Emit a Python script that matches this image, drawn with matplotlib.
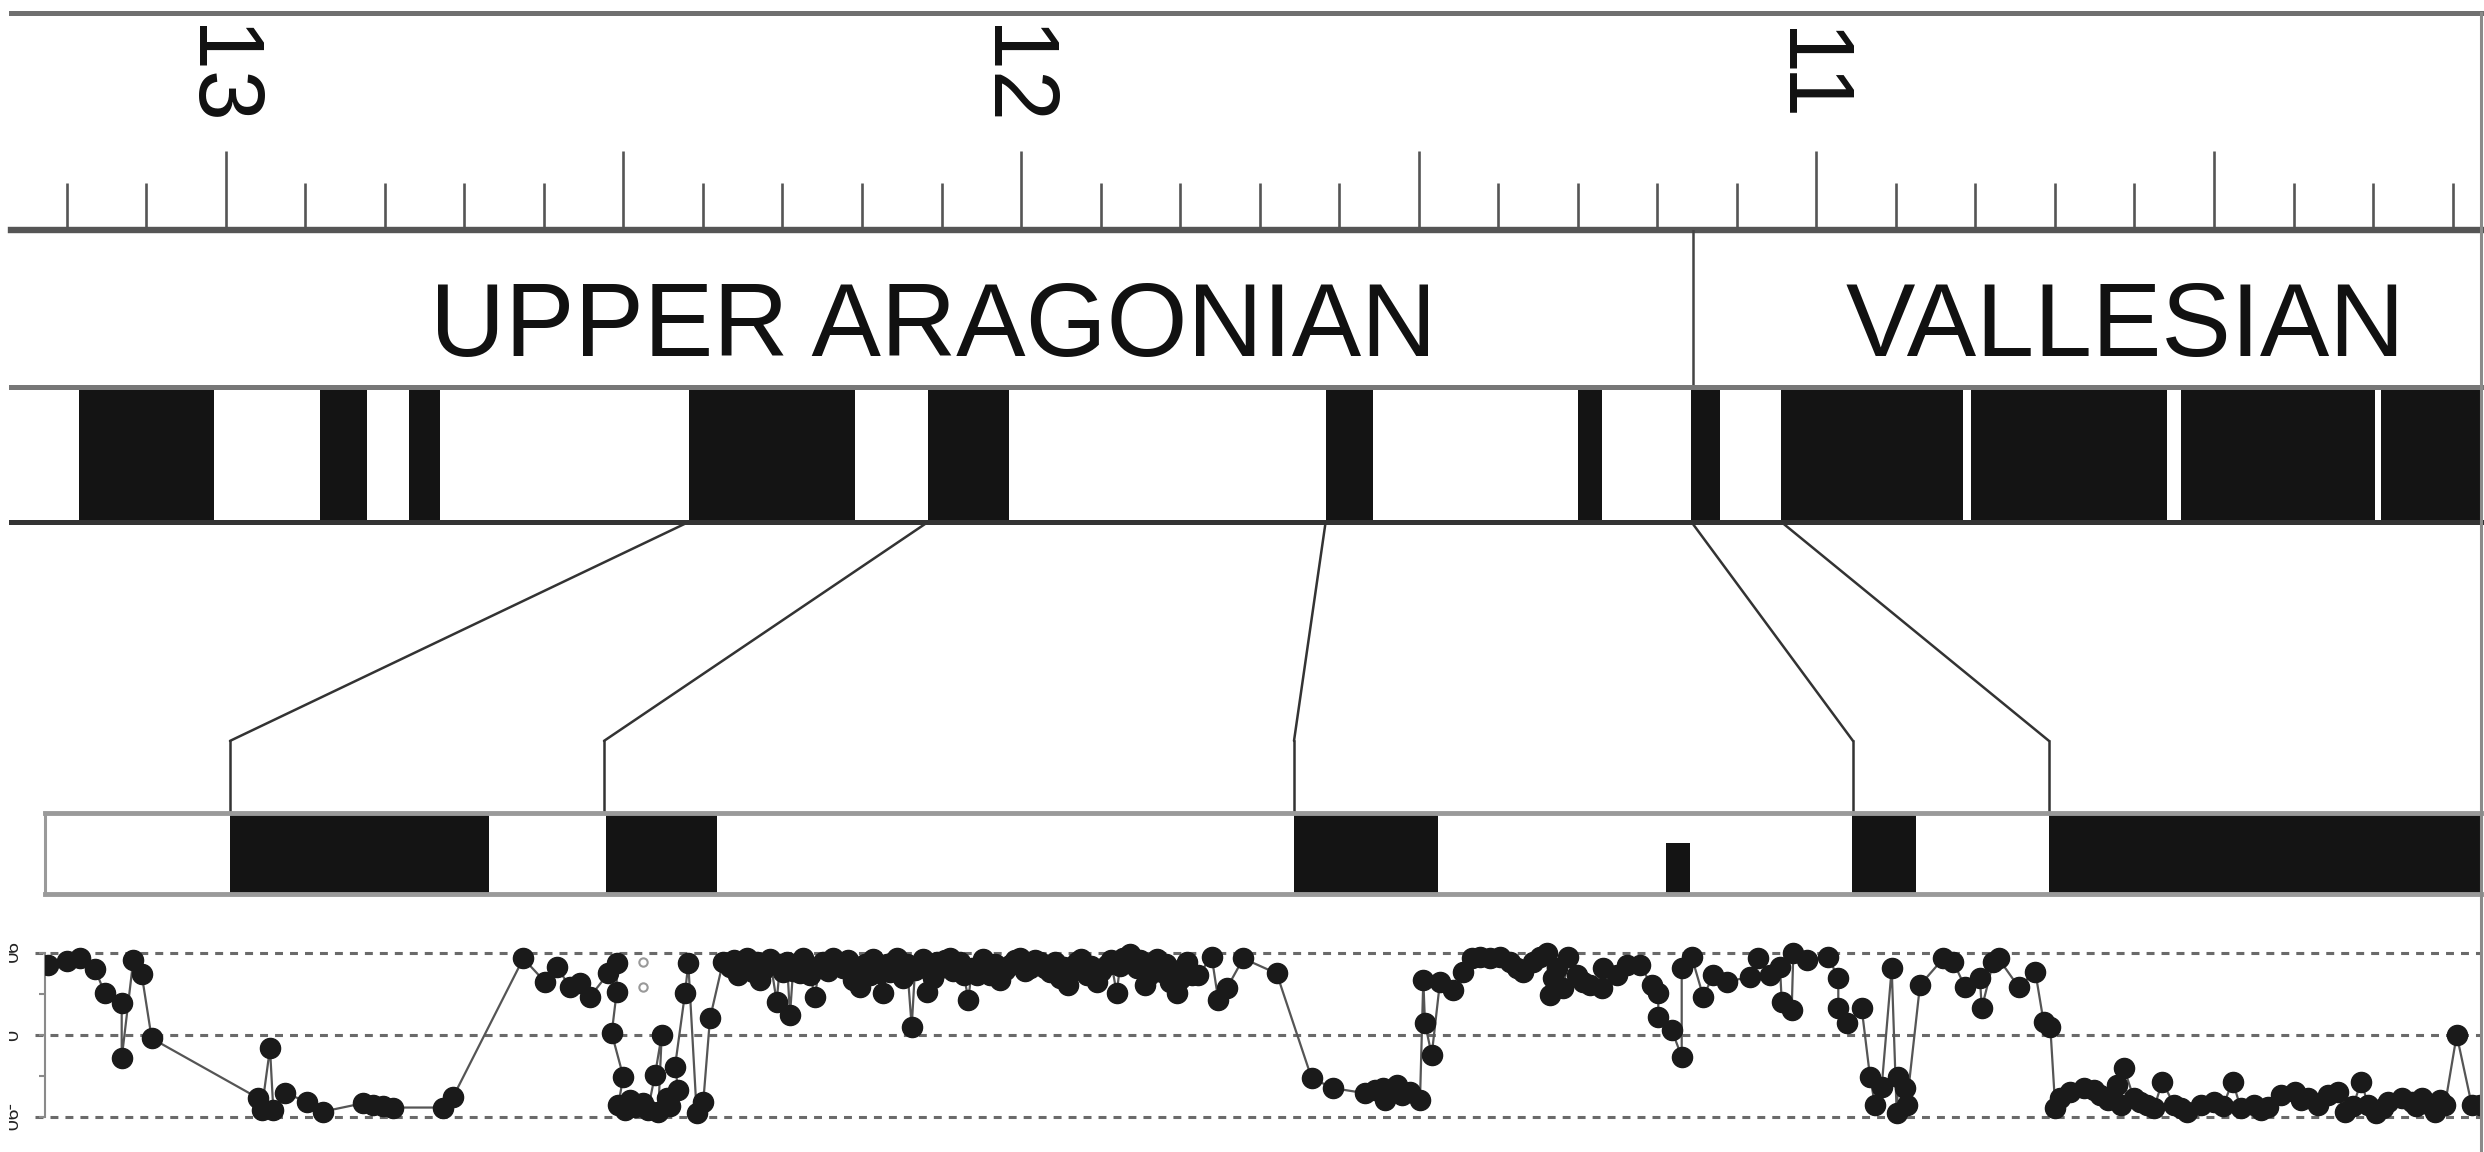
import matplotlib
matplotlib.use('Agg')
import matplotlib.pyplot as plt
from matplotlib.ticker import MultipleLocator
from matplotlib.patches import ConnectionPatch
from matplotlib.lines import Line2D
from matplotlib.transforms import Bbox, TransformedBbox, ScaledTranslation

plt.rcParams['font.family'] = ['Liberation Sans', 'DejaVu Sans']

# --- time scale (Ma) ---
age_range = (13.270, 10.163)
label_ages = [13, 12, 11]
stage_names = ['UPPER ARAGONIAN', 'VALLESIAN']
stage_label_ages = [12.11, 10.612]
stage_boundary = 11.155
# black (normal) chrons of the reference scale, (older, younger)
gpts_normal = [(13.185, 13.015), (12.881, 12.822), (12.769, 12.730),
               (12.418, 12.209), (12.117, 12.015), (11.617, 11.558),
               (11.300, 11.269), (11.157, 11.121), (11.044, 10.815),
               (10.805, 10.559), (10.541, 10.298), (10.290, 10.10)]

# --- local section (stratigraphic level, m) ---
section_range = (0, 243.7)
section_normal = [(18.5, 44.4), (56.1, 67.2), (124.9, 139.3),
                  (180.7, 187.1), (200.4, 250.0)]
section_half = [(162.1, 164.5)]
# correlation ties: (age Ma, level m)
tie_ages = [12.418, 12.117, 11.617, 11.157, 11.044]
tie_levels = [18.5, 55.9, 124.9, 180.8, 200.4]

# VGP latitude along the section
level = [0.33, 2.17, 3.5, 5.0, 6.0, 7.67, 7.67, 8.83, 9.67, 10.67,
         21.33, 21.67, 22.5, 22.83, 24.0, 26.17, 27.83, 31.83, 32.83, 33.83,
         34.83, 39.83, 40.83,
         47.83, 50.0, 51.17, 52.5, 53.5, 54.5, 56.33, 57.17, 57.17, 56.67,
         57.83, 57.33, 58.0, 58.5, 59.0, 59.83, 60.3, 61.0, 61.67, 61.33,
         62.17, 62.5, 63.33, 63.0, 64.0, 64.33, 65.17, 65.83, 66.5,
         67.8, 68.5, 68.9, 69.33, 69.7, 70.17, 70.5, 70.83, 71.2, 71.5,
         71.8, 72.17, 72.5, 73.17, 73.5, 73.83, 74.2, 74.5, 74.8, 75.17,
         75.5, 75.83, 76.2, 76.5, 77.0, 77.4, 77.83, 78.3, 78.83, 79.3,
         79.83, 80.3, 80.83, 81.1, 81.5, 82.0, 82.5, 82.8, 83.17, 83.5,
         83.83, 84.2, 84.5, 84.8, 85.17, 85.5, 85.83, 86.2, 86.67, 87.0,
         87.5, 87.8, 88.17, 88.5, 88.83, 89.2, 89.5, 90.0, 90.5, 90.8,
         91.17, 91.5, 91.9, 92.33, 92.7, 93.17, 93.5, 93.8, 94.17, 94.5,
         95.0, 95.5, 96.0, 96.5, 97.0, 97.5, 98.0, 98.5, 99.0, 99.5,
         100.0, 100.5, 101.0, 101.5, 101.9, 102.33, 102.7, 103.17, 103.6, 104.17,
         104.6, 105.17, 105.6, 106.17, 106.6, 107.17, 107.5, 107.83, 108.5, 108.8,
         109.17, 109.5, 110.0, 110.4, 110.83, 111.2, 111.67, 112.1, 112.5, 113.17,
         113.5, 113.83, 114.2, 114.67, 115.33,
         116.67, 117.33, 118.17, 119.83, 123.17, 126.67, 128.83, 132.0, 133.0, 133.83,
         134.0, 135.17, 135.7, 136.5, 137.5, 137.83, 138.0, 138.67, 139.5, 140.83,
         141.83, 142.67,
         143.5, 144.5, 145.5, 146.5, 147.17, 147.83, 148.83, 149.5, 150.17, 150.5,
         150.83, 151.17, 151.83, 152.33, 153.17, 153.83, 154.5, 155.67, 155.83, 157.17,
         158.17, 159.5, 160.67, 161.33, 161.33, 162.67, 163.67, 163.67, 164.67, 165.83,
         166.83, 168.17, 170.5, 171.33, 172.5, 173.5, 173.67, 174.67, 174.83, 176.17,
         178.33, 179.33, 179.33, 180.17, 181.67, 182.5, 183.0, 183.67, 184.67, 185.17,
         185.33, 186.0, 186.17, 187.5, 189.83, 190.83, 192.0,
         193.5, 193.67, 194.83, 195.35, 197.35, 199.03, 199.86, 200.53, 201.03, 201.53,
         202.54, 203.87, 204.88, 205.5, 206.3, 207.22, 207.55, 207.89, 208.89, 209.5,
         210.23, 210.9, 211.73, 212.9, 213.6, 214.24, 215.58, 216.92, 217.8, 218.76,
         219.59, 220.93, 221.6, 222.27, 223.61, 224.95, 225.6, 226.28, 227.29, 228.29,
         229.29, 229.96, 230.8, 231.63, 232.3, 233.14, 233.8, 234.31, 235.65, 236.65,
         237.1, 237.65, 238.3, 238.99, 239.5, 240.0, 241.17, 242.67, 243.5]
vgp_lat = [76.8, 81.2, 84.2, 72.1, 45.7, 34.8, -25.6, 82.3, 66.6, -3.7,
           -69.5, -82.0, -14.6, -82.3, -64.0, -73.2, -84.2, -75.0, -76.8, -78.5,
           -79.8, -79.8, -67.7,
           84.2, 58.5, 75.0, 53.0, 56.7, 42.1, 67.7, 78.7, 47.6, 1.8,
           -45.7, -76.8, -82.0, -71.3, -79.0, -75.0, -82.0, -43.9, 0.0, -84.2,
           -69.5, -78.0, -60.4, -34.8, 45.7, 78.7, -86.0, -73.2, 18.3,
           80.5, 75.0, 82.0, 66.1, 78.0, 84.2, 74.0, 69.5, 80.0, 60.4,
           72.0, 76.8, 84.0, 36.6, 78.0, 69.5, 80.0, 22.0, 70.0, 76.8,
           68.0, 84.2, 75.0, 66.1, 42.1, 74.0, 80.5, 70.0, 84.2, 77.0,
           73.2, 82.0, 60.4, 70.0, 53.0, 78.0, 66.1, 84.0, 76.8, 68.0,
           45.7, 78.0, 69.5, 80.0, 84.2, 74.0, 62.2, 78.0, 9.1, 72.0,
           76.8, 84.0, 47.6, 70.0, 62.2, 80.0, 73.2, 82.0, 84.2, 70.0,
           73.2, 80.0, 66.0, 38.4, 74.0, 66.1, 76.8, 84.0, 76.8, 66.1,
           78.0, 60.4, 72.0, 76.8, 82.0, 84.2, 70.0, 73.2, 82.0, 80.5,
           74.0, 69.5, 80.0, 62.2, 75.0, 54.9, 70.0, 80.5, 84.0, 66.1,
           76.0, 58.5, 70.0, 76.8, 82.0, 45.7, 76.0, 84.2, 89.6, 78.0,
           73.2, 82.0, 54.9, 66.0, 76.8, 84.0, 69.5, 78.0, 58.5, 45.7,
           62.0, 73.2, 80.0, 66.1, 66.1,
           86.0, 38.4, 51.2, 84.2, 67.7, -47.6, -58.5, -64.0, -60.0, -58.5,
           -71.3, -54.9, -66.0, -62.2, -71.3, 60.4, 12.8, -22.0, 58.5, 49.4,
           69.5, 84.2,
           86.0, 84.2, 86.0, 80.5, 73.2, 69.5, 80.5, 86.0, 90.0, 44.0,
           62.2, 73.2, 51.2, 86.0, 66.1, 58.5, 54.9, 51.2, 73.2, 66.1,
           76.8, 76.8, 54.9, 45.7, 20.1, 5.5, -23.8, 73.2, 86.0, 42.1,
           66.1, 58.5, 64.0, 84.2, 66.1, 75.0, 36.6, 27.4, 90.0, 82.3,
           86.0, 62.2, 29.3, 12.8, 29.3, -45.7, -76.8, -56.7, 73.2, -86.0,
           -45.7, -58.5, -76.8, 54.9, 84.2, 80.5, 53.0,
           62.2, 29.3, 80.5, 84.2, 53.0, 69.5, 14.6, 9.1, -80.5, -69.5,
           -62.2, -58.5, -60.4, -66.0, -72.0, -54.9, -76.8, -36.6, -69.5, -74.0,
           -76.8, -80.5, -51.2, -76.8, -80.0, -84.2, -76.8, -73.2, -78.0, -51.2,
           -80.5, -76.8, -82.0, -78.7, -65.9, -62.2, -72.0, -69.5, -76.8, -65.9,
           -62.2, -84.2, -78.0, -51.2, -76.8, -85.9, -80.0, -73.2, -69.5, -73.2,
           -78.0, -69.5, -76.0, -84.2, -72.0, -76.8, 0.0, -76.8, -76.8]
open_level = [59.83, 59.83]
open_lat = [80.5, 53.0]
lat_ref = [90, 0, -90]
lat_ticks = [-90, -45, 0, 45, 90]
side_labels = ['90', '0', '-90']

W_PX, H_PX = 2484, 1152
fig = plt.figure(figsize=(W_PX / 100, H_PX / 100), dpi=100)
fig.patch.set_facecolor('white')


def frame(x0, y0, x1, y1):
    # pixel box (top-left origin) -> figure fraction rect
    return [x0 / W_PX, 1 - y1 / H_PX, (x1 - x0) / W_PX, (y1 - y0) / H_PX]


# ruler
ax_r = fig.add_axes(frame(11, 13, 2482, 230))
ax_r.set_xlim(*age_range)
ax_r.set_ylim(0, 1)
for s in ['left', 'right']:
    ax_r.spines[s].set_visible(False)
ax_r.spines['top'].set_color('#707070')
ax_r.spines['top'].set_linewidth(3.6)
ax_r.spines['bottom'].set_color('#555555')
ax_r.spines['bottom'].set_linewidth(4.6)
ax_r.xaxis.set_major_locator(MultipleLocator(0.5))
ax_r.xaxis.set_minor_locator(MultipleLocator(0.1))
ax_r.tick_params(axis='x', which='major', direction='in', length=57, width=1.9,
                 color='#555555', labelbottom=False)
ax_r.tick_params(axis='x', which='minor', direction='in', length=34, width=1.9,
                 color='#555555')
ax_r.set_yticks([])
shift = ax_r.transData + ScaledTranslation(-0.10, 0, fig.dpi_scale_trans)
for a in label_ages:
    ax_r.text(a, 0.71, str(a), rotation=-90, ha='center', va='center',
              fontsize=66, color='#111111',
              transform=matplotlib.transforms.blended_transform_factory(
                  shift, ax_r.transAxes))

# stages
ax_s = fig.add_axes(frame(11, 230, 2482, 387))
ax_s.set_xlim(*age_range)
ax_s.set_ylim(0, 1)
ax_s.axis('off')
ax_s.axvline(stage_boundary, color='#444444', lw=1.8)
for name, a in zip(stage_names, stage_label_ages):
    ax_s.text(a, 0.2, name, ha='center', va='baseline', fontsize=75,
              color='#111111')

# reference polarity column
ax_c = fig.add_axes(frame(11, 387, 2482, 522))
ax_c.set_xlim(*age_range)
ax_c.set_ylim(0, 1)
for old, young in gpts_normal:
    ax_c.axvspan(old, young, color='#141414', lw=0)
ax_c.set_xticks([])
ax_c.set_yticks([])
ax_c.spines['left'].set_visible(False)
ax_c.spines['right'].set_visible(False)
ax_c.spines['top'].set_color('#777777')
ax_c.spines['top'].set_linewidth(3.6)
ax_c.spines['bottom'].set_color('#333333')
ax_c.spines['bottom'].set_linewidth(3.6)

# local magnetozones
ax_b = fig.add_axes(frame(45, 813, 2482, 894))
ax_b.set_xlim(*section_range)
ax_b.set_ylim(0, 1)
for lo, hi in section_normal:
    ax_b.axvspan(lo, hi, color='#141414', lw=0)
for lo, hi in section_half:
    ax_b.axvspan(lo, hi, ymin=0, ymax=0.63, color='#141414', lw=0)
ax_b.set_xticks([])
ax_b.set_yticks([])
ax_b.spines['right'].set_visible(False)
for s in ['top', 'bottom']:
    ax_b.spines[s].set_color('#9a9a9a')
    ax_b.spines[s].set_linewidth(3.5)
ax_b.spines['left'].set_color('#9a9a9a')
ax_b.spines['left'].set_linewidth(2.2)

# tie lines
kink = 0.89
for a, lv in zip(tie_ages, tie_levels):
    con = ConnectionPatch(xyA=(a, 0), coordsA=ax_c.get_xaxis_transform(),
                          xyB=(lv, 1 + kink), coordsB=ax_b.get_xaxis_transform(),
                          color='#333333', lw=1.8)
    fig.add_artist(con)
    ax_b.plot([lv, lv], [1, 1 + kink], transform=ax_b.get_xaxis_transform(),
              color='#333333', lw=1.8, clip_on=False)

# VGP latitude
ax_d = fig.add_axes(frame(45, 935, 2482, 1135))
ax_d.set_xlim(*section_range)
ax_d.set_ylim(-110, 110)
for y in lat_ref:
    ax_d.axhline(y, xmin=-0.004, xmax=1, color='#6a6a6a', lw=2.2,
                 ls=(0, (2.6, 2.3)), clip_on=False, zorder=1)
ax_d.plot(level, vgp_lat, '-', color='#555555', lw=1.6, zorder=2)
ax_d.plot(level, vgp_lat, 'o', ms=14.5, color='#1a1a1a', mec='#1a1a1a',
          zorder=3)
ax_d.plot(open_level, open_lat, 'o', ms=6, mfc='white', mec='#999999', mew=1.5,
          zorder=3)
for s in ['top', 'right', 'bottom']:
    ax_d.spines[s].set_visible(False)
ax_d.spines['left'].set_bounds(-90, 90)
ax_d.spines['left'].set_color('#8a8a8a')
ax_d.spines['left'].set_linewidth(1.5)
ax_d.set_xticks([])
ax_d.set_yticks(lat_ticks)
ax_d.tick_params(axis='y', length=4, width=1.5, color='#8a8a8a', labelleft=False)

# axis labels cut by the left border of the picture
clip = TransformedBbox(Bbox([[9 / W_PX, 0], [1, 1]]), fig.transFigure)
for lab, y in zip(side_labels, lat_ref):
    yf = ax_d.transData.transform((0, y))[1] / H_PX
    t = fig.text(16 / W_PX, yf, lab, rotation=-90, ha='right', va='center',
                 fontsize=14, color='#222222')
    t.set_clip_box(clip)
    t.set_clip_on(True)

# right border of the panel
fig.add_artist(Line2D([2481 / W_PX] * 2, [0, 1 - 13 / H_PX],
                      transform=fig.transFigure, color='#8a8a8a', lw=2.2))

fig.savefig('out.png', dpi=100, facecolor='white')
